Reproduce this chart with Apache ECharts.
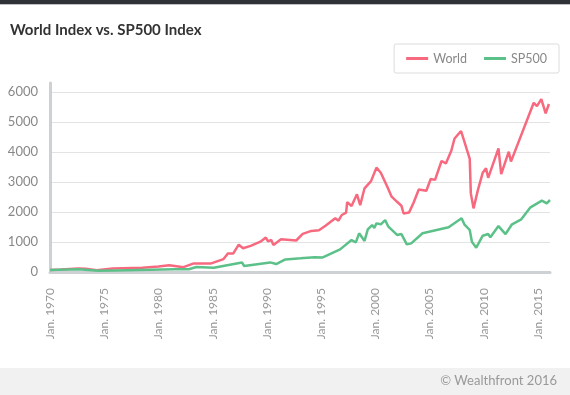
<!DOCTYPE html>
<html>
<head>
<meta charset="utf-8">
<script src="https://cdn.jsdelivr.net/npm/echarts@6/dist/echarts.min.js"></script>
<style>
html,body{margin:0;padding:0;background:#fff;}
#c{width:570px;height:395px;}
</style>
</head>
<body>
<div id="c"></div>
<script>
var worldYears = [1970.0, 1971.0, 1972.6, 1973.3, 1974.3, 1975.8, 1978.5, 1980.0, 1981.0, 1981.5, 1982.3, 1983.2, 1984.8, 1986.0, 1986.4, 1986.9, 1987.4, 1987.8, 1988.5, 1989.4, 1989.9, 1990.1, 1990.4, 1990.6, 1991.3, 1992.7, 1993.3, 1994.1, 1994.8, 1995.4, 1996.3, 1996.6, 1996.9, 1997.3, 1997.4, 1997.8, 1998.3, 1998.6, 1999.0, 1999.6, 2000.1, 2000.5, 2001.1, 2001.5, 2002.0, 2002.4, 2002.6, 2003.1, 2003.5, 2004.0, 2004.7, 2005.1, 2005.5, 2006.1, 2006.5, 2007.0, 2007.3, 2007.9, 2008.7, 2008.8, 2009.05, 2009.45, 2009.9, 2010.2, 2010.4, 2011.35, 2011.6, 2012.3, 2012.5, 2014.6, 2014.9, 2015.3, 2015.7, 2016.0];
var worldValues = [70, 85, 115, 105, 60, 120, 145, 180, 225, 200, 160, 280, 280, 430, 620, 620, 910, 790, 870, 1010, 1150, 1020, 1070, 900, 1090, 1050, 1270, 1370, 1390, 1540, 1790, 1710, 1900, 1980, 2330, 2200, 2590, 2230, 2790, 3030, 3480, 3310, 2840, 2510, 2340, 2210, 1950, 1980, 2290, 2750, 2710, 3100, 3070, 3700, 3620, 4040, 4450, 4700, 3770, 2620, 2120, 2730, 3310, 3460, 3140, 4120, 3260, 4010, 3680, 5640, 5530, 5760, 5290, 5600];
var spYears = [1970.0, 1972.6, 1974.5, 1976.0, 1981.5, 1982.8, 1983.5, 1985.1, 1987.7, 1987.9, 1990.3, 1990.85, 1991.7, 1993.1, 1994.4, 1995.1, 1996.75, 1997.8, 1998.2, 1998.5, 1999.0, 1999.3, 1999.7, 1999.9, 2000.1, 2000.5, 2000.9, 2001.2, 2002.0, 2002.4, 2002.9, 2003.3, 2004.35, 2006.75, 2007.95, 2008.2, 2008.7, 2008.9, 2009.3, 2009.9, 2010.4, 2010.6, 2011.35, 2012.0, 2012.6, 2013.45, 2014.3, 2015.35, 2015.8, 2016.1];
var spValues = [70, 90, 40, 50, 90, 90, 165, 145, 320, 200, 320, 265, 420, 455, 490, 480, 755, 1065, 990, 1290, 1035, 1420, 1565, 1465, 1620, 1590, 1730, 1510, 1235, 1265, 920, 955, 1290, 1490, 1790, 1590, 1400, 1010, 810, 1210, 1265, 1155, 1530, 1265, 1590, 1755, 2155, 2380, 2290, 2400];
var seriesNames = ['World', 'SP500'];
var xTickYears = [1970, 1975, 1980, 1985, 1990, 1995, 2000, 2005, 2010, 2015];

function pairs(xs, ys) { return xs.map(function (x, i) { return [x, ys[i]]; }); }

var FONT = 'Lato, "Open Sans", sans-serif';
var chart = echarts.init(document.getElementById('c'), null, {renderer: 'canvas'});
chart.setOption({
  backgroundColor: '#fff',
  animation: false,
  textStyle: {fontFamily: FONT},
  title: {
    text: 'World Index vs. SP500 Index',
    left: 5, top: 18,
    textStyle: {fontSize: 15, fontWeight: 'bold', color: '#333', fontFamily: FONT}
  },
  graphic: [
    {type: 'rect', shape: {x: 0, y: 0, width: 570, height: 4}, style: {fill: '#2f3237'}, z: 10},
    {type: 'rect', shape: {x: 0, y: 4, width: 570, height: 1}, style: {fill: '#bfc1c4'}, z: 10},
    {type: 'rect', shape: {x: 0, y: 368, width: 570, height: 27}, style: {fill: '#f1f1f1'}, z: 0},
    {type: 'text', right: 13, top: 374, style: {text: '\u00a9 Wealthfront 2016', fill: '#999', font: '13px ' + FONT}, z: 10}
  ],
  legend: {
    data: seriesNames,
    right: 11, top: 44,
    padding: [8, 12, 8, 12],
    itemGap: 17,
    itemWidth: 22, itemHeight: 3,
    icon: 'rect',
    borderColor: '#dcdcdc', borderWidth: 1, borderRadius: 2,
    textStyle: {color: '#888', fontSize: 12.5, fontFamily: FONT}
  },
  grid: {left: 50, right: 20, top: 83, bottom: 123, containLabel: false},
  xAxis: {
    type: 'value',
    min: 1970, max: 2016.1, interval: 5,
    axisLine: {show: true, lineStyle: {color: '#cdd1d4', width: 3}},
    axisTick: {show: false},
    splitLine: {show: false},
    axisLabel: {
      rotate: 90, margin: 16, color: '#999', fontSize: 12, fontFamily: FONT,
      showMaxLabel: false,
      formatter: function (v) { return xTickYears.indexOf(Math.round(v)) >= 0 && Math.abs(v - Math.round(v)) < 1e-6 ? 'Jan. ' + Math.round(v) : ''; }
    }
  },
  yAxis: {
    type: 'value',
    min: 0, max: 6300, interval: 1000,
    axisLine: {show: true, lineStyle: {color: '#cdd1d4', width: 3}},
    axisTick: {show: false},
    splitLine: {show: true, showMaxLine: false, lineStyle: {color: '#e3e3e3', width: 1}},
    axisLabel: {
      margin: 12, color: '#888', fontSize: 13, fontFamily: FONT,
      showMaxLabel: false,
      formatter: function (v) { return v % 1000 === 0 ? String(v) : ''; }
    }
  },
  series: [
    {name: seriesNames[0], type: 'line', data: pairs(worldYears, worldValues), showSymbol: false, symbol: 'none',
     lineStyle: {color: '#f7697f', width: 2.5}, itemStyle: {color: '#f7697f'}},
    {name: seriesNames[1], type: 'line', data: pairs(spYears, spValues), showSymbol: false, symbol: 'none',
     lineStyle: {color: '#5cc189', width: 2.5}, itemStyle: {color: '#5cc189'}}
  ]
});
</script>
</body>
</html>
